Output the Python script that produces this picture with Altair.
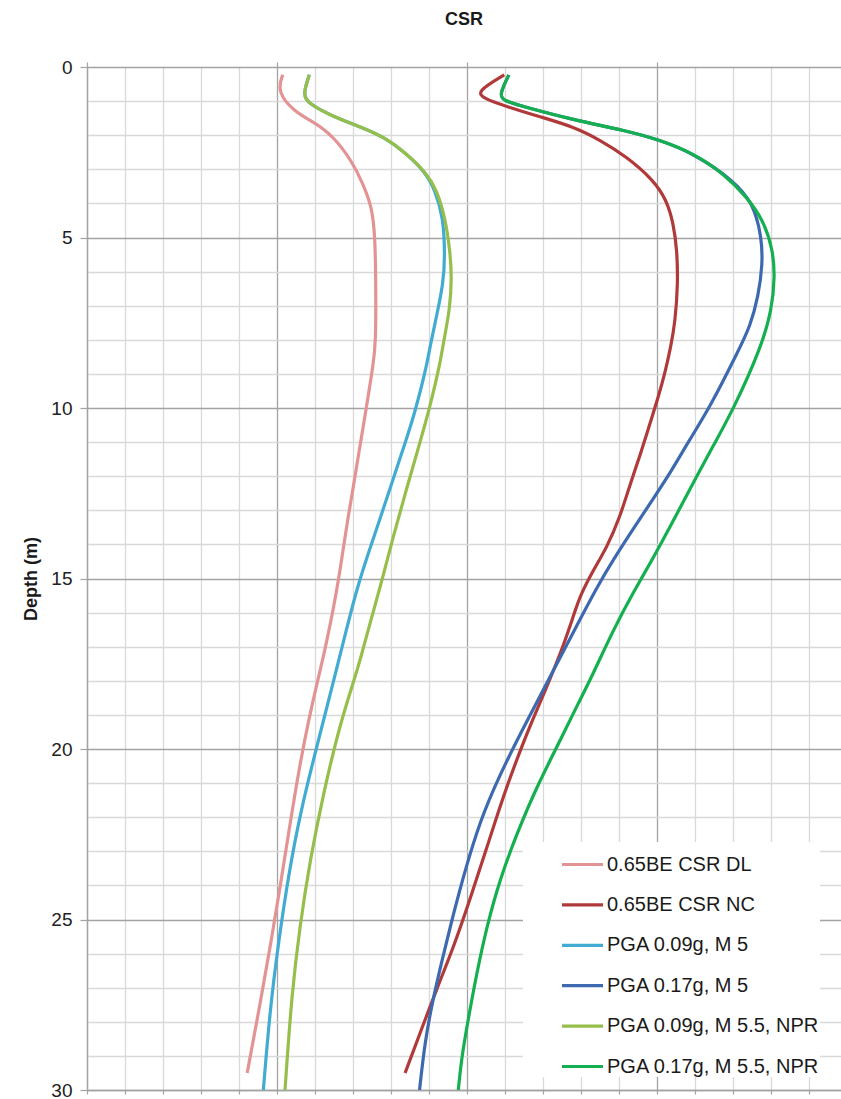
import altair as alt
import pandas as pd

# ---- series names & colours (legend order) ----
series_names = [
    "0.65BE CSR DL",
    "0.65BE CSR NC",
    "PGA 0.09g, M 5",
    "PGA 0.17g, M 5",
    "PGA 0.09g, M 5.5, NPR",
    "PGA 0.17g, M 5.5, NPR",
]
series_colors = ["#E39393", "#B03A3A", "#41ABD1", "#3D69B0", "#95BE4A", "#14B04F"]

# ---- data (depth in m, CSR) ----
dl_depth = [0.23, 0.72, 1.31, 1.6, 2.04, 2.82, 3.4, 4.1, 5.0, 6.3, 8.1, 8.7, 10.0, 11.1, 12.2,
            13.6, 14.85, 16.0, 17.1, 17.9, 19.05, 20.6, 22.5, 24.2, 25.7, 27.2, 29.5]
dl_csr = [0.103, 0.100, 0.109, 0.119, 0.130, 0.140, 0.145, 0.150, 0.1516, 0.152, 0.152, 0.1507,
          0.147, 0.1437, 0.1405, 0.1362, 0.133, 0.1293, 0.1252, 0.1218, 0.117, 0.1115, 0.106,
          0.1012, 0.0967, 0.092, 0.0843]

nc_depth = [0.23, 0.72, 0.92, 1.16, 1.46, 1.75, 2.14, 2.63, 3.31, 3.9, 4.58, 5.37, 6.34, 7.5,
            8.2, 8.9, 9.67, 10.45, 11.4, 12.2, 13.2, 14.1, 14.75, 15.5, 16.1, 17.0, 17.9, 18.7,
            19.6, 21.3, 22.9, 24.4, 25.8, 26.97, 28.3, 29.5]
nc_csr = [0.2196, 0.205, 0.2086, 0.2209, 0.2384, 0.256, 0.270, 0.284, 0.298, 0.305, 0.3086,
          0.3105, 0.311, 0.3095, 0.3072, 0.3045, 0.3007, 0.2963, 0.291, 0.286, 0.2805, 0.2735,
          0.2665, 0.2595, 0.256, 0.2505, 0.244, 0.238, 0.231, 0.2195, 0.2104, 0.2016, 0.193,
          0.1845, 0.1755, 0.1674]

m5a_depth = [0.23, 0.82, 1.07, 1.46, 1.75, 2.04, 2.53, 3.12, 3.6, 4.39, 5.56, 6.34, 7.3, 8.2,
             8.7, 10.06, 11.1, 12.1, 13.2, 14.1, 15.2, 16.5, 17.9, 19.8, 21.8, 23.7, 25.7,
             27.65, 30.0]
m5a_csr = [0.117, 0.1135, 0.1165, 0.1296, 0.1437, 0.156, 0.168, 0.1785, 0.183, 0.1875, 0.1884,
           0.1875, 0.184, 0.1805, 0.179, 0.173, 0.167, 0.161, 0.1545, 0.149, 0.1425, 0.1365,
           0.1303, 0.1215, 0.1125, 0.106, 0.1007, 0.0963, 0.0928]

m5b_depth = [0.23, 0.77, 0.97, 1.16, 1.55, 1.85, 2.14, 2.53, 3.31, 4.0, 4.98, 5.76, 6.73, 7.6,
             8.3, 9.96, 10.94, 11.9, 12.7, 13.5, 14.4, 15.24, 16.3, 17.9, 19.5, 20.9, 22.1,
             23.45, 24.8, 26.2, 27.46, 28.6, 30.0]
m5b_csr = [0.222, 0.2174, 0.2182, 0.2296, 0.256, 0.2823, 0.3016, 0.319, 0.340, 0.3507, 0.355,
           0.3556, 0.3533, 0.349, 0.343, 0.328, 0.317, 0.307, 0.2975, 0.288, 0.2775, 0.2685,
           0.2585, 0.2435, 0.2285, 0.216, 0.207, 0.1995, 0.193, 0.1868, 0.1816, 0.1778, 0.175]

npra_depth = [0.23, 0.82, 1.07, 1.46, 1.75, 2.04, 2.53, 3.12, 3.6, 4.39, 5.37, 6.15, 7.1, 8.1,
              8.7, 9.96, 11.0, 12.4, 13.8, 14.9, 16.3, 17.4, 17.9, 19.3, 21.3, 23.25, 25.2,
              27.2, 30.0]
npra_csr = [0.117, 0.1135, 0.1165, 0.1296, 0.1437, 0.156, 0.168, 0.1788, 0.184, 0.1884, 0.191,
            0.192, 0.191, 0.1875, 0.1858, 0.1805, 0.1753, 0.168, 0.161, 0.156, 0.149, 0.1437,
            0.141, 0.133, 0.1244, 0.1174, 0.112, 0.1077, 0.1042]

nprb_depth = [0.23, 0.77, 0.97, 1.16, 1.55, 1.85, 2.14, 2.53, 3.12, 3.8, 4.49, 5.37, 6.15, 7.1,
              8.2, 10.06, 11.1, 12.2, 13.3, 14.4, 15.4, 16.5, 17.9, 18.66, 19.7, 21.1, 22.5,
              23.8, 25.2, 26.6, 27.9, 29.1, 30.0]
nprb_csr = [0.222, 0.2174, 0.2182, 0.2296, 0.256, 0.2823, 0.3016, 0.319, 0.335, 0.347, 0.356,
            0.361, 0.362, 0.3604, 0.355, 0.340, 0.3296, 0.319, 0.3086, 0.298, 0.2875, 0.277,
            0.2655, 0.2585, 0.2495, 0.2367, 0.2261, 0.2174, 0.2104, 0.205, 0.2007, 0.197, 0.1954]

# ---- tick values ----
y_ticks = list(range(0, 31))
x_minor_ticks = [0.0, 0.02, 0.04, 0.06, 0.08, 0.1, 0.12, 0.14, 0.16, 0.18, 0.2, 0.22, 0.24,
                 0.26, 0.28, 0.3, 0.32, 0.34, 0.36, 0.38]
x_major_ticks = [0.0, 0.1, 0.2, 0.3]
X_DOMAIN = [0.0, 0.3968]
Y_DOMAIN = [0, 30]

all_series = [
    (series_names[0], dl_depth, dl_csr),
    (series_names[1], nc_depth, nc_csr),
    (series_names[2], m5a_depth, m5a_csr),
    (series_names[3], m5b_depth, m5b_csr),
    (series_names[4], npra_depth, npra_csr),
    (series_names[5], nprb_depth, nprb_csr),
]
rows = []
for name, ds, vs in all_series:
    for d, v in zip(ds, vs):
        rows.append({"series": name, "depth": d, "csr": v})
df = pd.DataFrame(rows)

MAJOR = "#a3a3a3"
MINOR = "#d9d9d9"
FONT = "Liberation Sans"

x_scale = alt.Scale(domain=X_DOMAIN, nice=False, zero=False)

lines = alt.Chart(df).mark_line(strokeWidth=3.2, interpolate="basis", clip=True).encode(
    x=alt.X("csr:Q", scale=x_scale,
            axis=alt.Axis(orient="bottom", values=x_minor_ticks, labels=False, title=None,
                          grid=True,
                          gridColor={"condition": {"test": "round(datum.value*50) % 5 === 0",
                                                   "value": MAJOR}, "value": MINOR},
                          gridWidth=1.3, domainColor=MAJOR, domainWidth=1.3,
                          tickColor=MAJOR, tickSize=4, tickWidth=1.2)),
    y=alt.Y("depth:Q", scale=alt.Scale(domain=Y_DOMAIN, reverse=True, nice=False, zero=False),
            axis=alt.Axis(values=y_ticks, title="Depth (m)",
                          labelExpr="datum.value % 5 === 0 ? datum.label : ''",
                          grid=True,
                          gridColor={"condition": {"test": "datum.value % 5 === 0",
                                                   "value": MAJOR}, "value": MINOR},
                          tickOpacity={"condition": {"test": "datum.value % 5 === 0",
                                                     "value": 1}, "value": 0},
                          gridWidth=1.3, domainColor=MAJOR, domainWidth=1.3,
                          tickColor=MAJOR, tickSize=7, tickWidth=1.2,
                          labelFont=FONT, labelFontSize=19, labelColor="#222222",
                          labelPadding=8,
                          titleFont=FONT, titleFontSize=18, titleFontWeight="bold",
                          titleColor="#1a1a1a", titlePadding=10)),
    color=alt.Color("series:N", scale=alt.Scale(domain=series_names, range=series_colors),
                    legend=alt.Legend(orient="none", legendX=436, legendY=775, title=None,
                                      fillColor="white", padding=0, symbolOffset=37,
                                      symbolType="stroke", symbolSize=1681,
                                      symbolStrokeWidth=3.2, labelFont=FONT,
                                      labelFontSize=20, labelColor="#1a1a1a",
                                      labelExpr="datum.label + '     '",
                                      labelOffset=2, rowPadding=7.4, labelLimit=400)),
    order=alt.Order("depth:Q"),
)

top_axis = alt.Chart(pd.DataFrame({"csr": x_major_ticks})).mark_point(opacity=0).encode(
    x=alt.X("csr:Q", scale=x_scale,
            axis=alt.Axis(orient="top", values=x_major_ticks, labels=False, title=None,
                          grid=False, domain=False, tickColor=MAJOR, tickSize=5,
                          tickWidth=1.2)),
)

chart = alt.layer(lines, top_axis).resolve_axis(x="independent").properties(
    width=754,
    height=1023,
    autosize=alt.AutoSizeParams(type="none"),
    padding={"left": 87, "top": 67, "right": 0, "bottom": 9},
    title=alt.TitleParams("CSR", font=FONT, fontSize=18, fontWeight="bold",
                          color="#1a1a1a", anchor="middle", offset=29),
).configure_view(stroke=None).configure(font=FONT)

chart.save("out.html", embed_options={"renderer": "svg", "actions": False})
